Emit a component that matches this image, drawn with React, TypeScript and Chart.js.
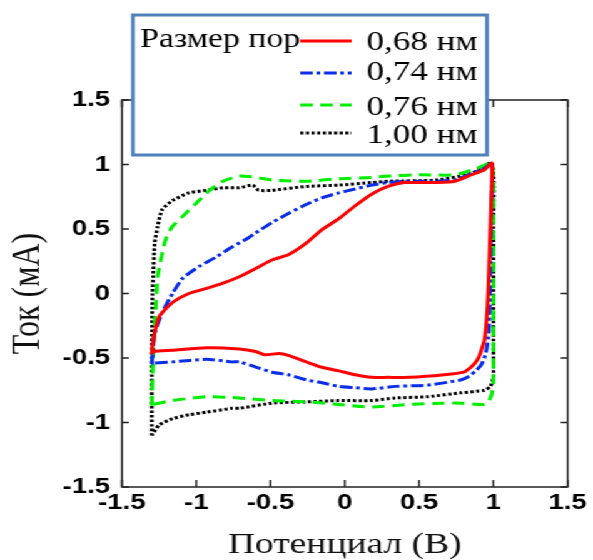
import React, { useEffect, useRef } from 'react';
import { Chart, registerables } from 'chart.js';

Chart.register(...registerables);

// ---------- data ----------
const legendTitle = 'Размер пор';
const seriesLabels = ['0,68 нм', '0,74 нм', '0,76 нм', '1,00 нм'];
const seriesColors = ['#ff0000', '#0a2ee8', '#00ee00', '#000000'];
const xTickValues = [-1.5, -1, -0.5, 0, 0.5, 1, 1.5];
const xTickLabels = ['-1.5', '-1', '-0.5', '0', '0.5', '1', '1.5'];
const yTickValues = [-1.5, -1, -0.5, 0, 0.5, 1, 1.5];
const yTickLabels = ['-1.5', '-1', '-0.5', '0', '0.5', '1', '1.5'];
const xTitle = 'Потенциал (В)';
const yTitle = 'Ток (мА)';

const potential068 = [-1.3, -1.29, -1.25, -1.16, -1.05, -0.93, -0.82, -0.71, -0.59, -0.49, -0.38, -0.26, -0.16, -0.04, 0.07, 0.18, 0.29, 0.4, 0.51, 0.62, 0.74, 0.85, 0.94, 0.99,
  0.985, 0.975, 0.965, 0.955, 0.94, 0.91, 0.89, 0.85, 0.8, 0.67, 0.44, 0.29, 0.18, 0.07, -0.04, -0.16, -0.26, -0.38, -0.44, -0.54, -0.6, -0.71, -0.93, -1.16, -1.29, -1.3];
const current068 = [-0.47, -0.36, -0.18, -0.07, 0.0, 0.04, 0.08, 0.13, 0.2, 0.26, 0.3, 0.39, 0.49, 0.58, 0.68, 0.77, 0.83, 0.86, 0.86, 0.86, 0.87, 0.92, 0.96, 1.01,
  0.7, 0.34, 0.0, -0.2, -0.36, -0.47, -0.52, -0.57, -0.61, -0.63, -0.65, -0.65, -0.65, -0.63, -0.6, -0.57, -0.53, -0.48, -0.465, -0.475, -0.45, -0.43, -0.42, -0.44, -0.45, -0.47];

const potential074 = [-1.3, -1.29, -1.28, -1.23, -1.16, -1.09, -0.98, -0.87, -0.76, -0.65, -0.6, -0.49, -0.38, -0.26, -0.16, -0.04, 0.07, 0.18, 0.29, 0.4, 0.51, 0.62, 0.74, 0.85, 0.94, 0.99,
  0.985, 0.98, 0.97, 0.95, 0.92, 0.89, 0.84, 0.78, 0.56, 0.34, 0.18, 0.07, -0.04, -0.16, -0.26, -0.38, -0.49, -0.6, -0.71, -0.76, -0.93, -1.16, -1.29, -1.3];
const current074 = [-0.55, -0.42, -0.31, -0.15, 0.0, 0.12, 0.21, 0.28, 0.36, 0.43, 0.47, 0.55, 0.62, 0.69, 0.74, 0.78, 0.81, 0.84, 0.86, 0.87, 0.87, 0.87, 0.88, 0.93, 0.97, 1.01,
  0.6, 0.2, -0.3, -0.46, -0.55, -0.59, -0.64, -0.67, -0.71, -0.72, -0.74, -0.73, -0.72, -0.69, -0.67, -0.63, -0.61, -0.57, -0.53, -0.53, -0.51, -0.53, -0.54, -0.55];

const potential076 = [-1.3, -1.29, -1.28, -1.27, -1.26, -1.23, -1.2, -1.16, -1.09, -1.0, -0.91, -0.82, -0.71, -0.6, -0.49, -0.26, -0.04, 0.18, 0.29, 0.51, 0.74, 0.89, 0.99,
  1.0, 1.0, 1.0, 0.99, 0.97, 0.94, 0.78, 0.67, 0.44, 0.18, -0.04, -0.26, -0.49, -0.71, -0.93, -1.16, -1.29, -1.3];
const current076 = [-0.87, -0.5, -0.25, -0.05, 0.13, 0.31, 0.44, 0.52, 0.6, 0.7, 0.8, 0.87, 0.91, 0.9, 0.88, 0.87, 0.89, 0.9, 0.91, 0.92, 0.92, 0.97, 1.01,
  0.5, -0.3, -0.69, -0.78, -0.83, -0.86, -0.85, -0.85, -0.86, -0.88, -0.86, -0.84, -0.83, -0.81, -0.8, -0.83, -0.86, -0.87];

const potential100 = [-1.3, -1.3, -1.295, -1.29, -1.28, -1.26, -1.23, -1.16, -1.05, -0.93, -0.82, -0.71, -0.62, -0.58, -0.49, -0.26, -0.04, 0.18, 0.29, 0.62, 0.85, 0.99,
  1.0, 1.0, 1.0, 0.98, 0.94, 0.78, 0.56, 0.34, 0.18, -0.04, -0.26, -0.49, -0.71, -0.76, -0.93, -1.05, -1.16, -1.25, -1.3];
const current100 = [-1.1, -0.5, 0.0, 0.13, 0.39, 0.52, 0.65, 0.72, 0.78, 0.8, 0.82, 0.82, 0.84, 0.8, 0.8, 0.83, 0.84, 0.86, 0.87, 0.88, 0.93, 1.01,
  0.5, -0.44, -0.65, -0.72, -0.75, -0.77, -0.8, -0.81, -0.83, -0.83, -0.84, -0.85, -0.89, -0.89, -0.92, -0.94, -0.97, -1.02, -1.1];

const seriesPotentials = [potential068, potential074, potential076, potential100];
const seriesCurrents = [current068, current074, current076, current100];
const seriesDashes: number[][] = [[], [10, 3, 3, 3], [10, 6], [2.5, 2]];

// ---------- layout ----------
const CANVAS_W = 474;
const CANVAS_H = 560;
const STRETCH = 593 / CANVAS_W;

const framePlugin = {
  id: 'frameTicks',
  afterDatasetsDraw(chart: any) {
    const { ctx, chartArea, scales } = chart;
    const { left, right, top, bottom } = chartArea;
    ctx.save();
    ctx.strokeStyle = '#222';
    ctx.lineWidth = 1.5;
    ctx.setLineDash([]);
    ctx.strokeRect(left, top, right - left, bottom - top);
    ctx.beginPath();
    scales.x.ticks.forEach((t: any) => {
      const px = scales.x.getPixelForValue(t.value);
      ctx.moveTo(px, bottom);
      ctx.lineTo(px, bottom - 7);
      ctx.moveTo(px, top);
      ctx.lineTo(px, top + 7);
    });
    scales.y.ticks.forEach((t: any) => {
      const py = scales.y.getPixelForValue(t.value);
      ctx.moveTo(left, py);
      ctx.lineTo(left + 5.5, py);
      ctx.moveTo(right, py);
      ctx.lineTo(right - 5.5, py);
    });
    ctx.stroke();
    ctx.restore();
  },
};

const legendPlugin = {
  id: 'boxLegend',
  afterDraw(chart: any) {
    const { ctx } = chart;
    const boxL = 106.3, boxT = 15, boxR = 389.3, boxB = 155;
    ctx.save();
    ctx.fillStyle = '#ffffff';
    ctx.fillRect(boxL, boxT, boxR - boxL, boxB - boxT);
    ctx.strokeStyle = '#4f81bd';
    ctx.lineWidth = 3;
    ctx.setLineDash([]);
    ctx.strokeRect(boxL, boxT, boxR - boxL, boxB - boxT);
    ctx.fillStyle = '#000';
    ctx.textBaseline = 'alphabetic';
    ctx.textAlign = 'left';
    ctx.font = '27px "Liberation Serif", "Times New Roman", serif';
    ctx.fillText(legendTitle, 112, 47);
    const baselines = [50, 80, 115, 143];
    const lineYs = [41, 73, 105, 133];
    ctx.font = '28px "Liberation Serif", "Times New Roman", serif';
    chart.data.datasets.forEach((ds: any, i: number) => {
      ctx.save();
      ctx.strokeStyle = ds.borderColor;
      ctx.lineWidth = 3;
      ctx.setLineDash(ds.borderDash || []);
      ctx.beginPath();
      ctx.moveTo(240, lineYs[i]);
      ctx.lineTo(281, lineYs[i]);
      ctx.stroke();
      ctx.restore();
      ctx.fillText(ds.label, 293, baselines[i]);
    });
    ctx.restore();
  },
};

function labelFor(values: number[], labels: string[], v: number) {
  const i = values.findIndex((t) => Math.abs(t - v) < 1e-9);
  return i >= 0 ? labels[i] : '';
}

export default function App() {
  const canvasRef = useRef<HTMLCanvasElement | null>(null);

  useEffect(() => {
    if (!canvasRef.current) return;
    const datasets = seriesLabels.map((label, i) => ({
      label,
      data: seriesPotentials[i].map((v, j) => ({ x: v, y: seriesCurrents[i][j] })),
      borderColor: seriesColors[i],
      backgroundColor: seriesColors[i],
      borderDash: seriesDashes[i],
      borderWidth: 3,
      pointRadius: 0,
      tension: 0.2,
      fill: false,
    }));
    const tickFont = { family: '"Liberation Sans", Arial, sans-serif', size: 22, weight: 'bold' as const, lineHeight: 1 };
    const chart = new Chart(canvasRef.current, {
      type: 'line',
      data: { datasets },
      options: {
        animation: false,
        responsive: false,
        maintainAspectRatio: false,
        devicePixelRatio: 1,
        layout: { padding: { left: 7, top: 100, right: 17.6, bottom: 0 } },
        plugins: { legend: { display: false }, tooltip: { enabled: false } },
        scales: {
          x: {
            type: 'linear',
            min: -1.5,
            max: 1.5,
            afterBuildTicks: (scale: any) => { scale.ticks = xTickValues.map((v) => ({ value: v })); },
            afterFit: (scale: any) => { scale.height = 73; },
            grid: { display: false, drawTicks: false },
            border: { display: false },
            ticks: {
              color: '#000', font: tickFont, padding: 5, maxRotation: 0, autoSkip: false,
              callback: (v: any) => labelFor(xTickValues, xTickLabels, Number(v)),
            },
            title: {
              display: true,
              text: xTitle,
              color: '#111',
              padding: 0,
              font: { family: '"Liberation Serif", "Times New Roman", serif', size: 30, lineHeight: 1 },
            },
          },
          y: {
            type: 'linear',
            min: -1.5,
            max: 1.5,
            afterBuildTicks: (scale: any) => { scale.ticks = yTickValues.map((v) => ({ value: v })); },
            afterFit: (scale: any) => { scale.width = 90.5; },
            grid: { display: false, drawTicks: false },
            border: { display: false },
            ticks: {
              color: '#000', font: tickFont, padding: 9.5, autoSkip: false,
              callback: (v: any) => labelFor(yTickValues, yTickLabels, Number(v)),
            },
            title: {
              display: true,
              text: yTitle,
              color: '#111',
              padding: 0,
              font: { family: '"Liberation Serif", "Times New Roman", serif', size: 32, lineHeight: 1 },
            },
          },
        },
      },
      plugins: [framePlugin, legendPlugin],
    });
    return () => chart.destroy();
  }, []);

  return (
    <div
      style={{
        position: 'absolute',
        left: 0,
        top: 0,
        width: CANVAS_W,
        height: CANVAS_H,
        transform: `scaleX(${STRETCH})`,
        transformOrigin: '0 0',
        background: '#fff',
      }}
    >
      <canvas ref={canvasRef} width={CANVAS_W} height={CANVAS_H} style={{ display: 'block' }} />
    </div>
  );
}
